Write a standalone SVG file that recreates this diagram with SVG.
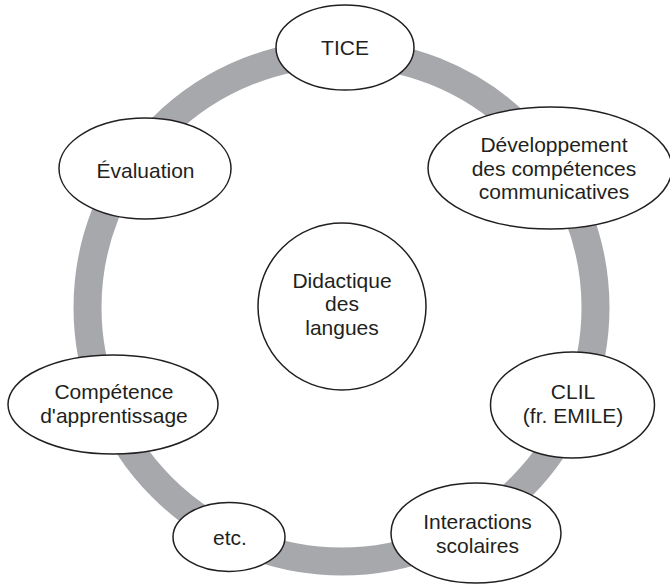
<svg xmlns="http://www.w3.org/2000/svg" width="670" height="585" viewBox="0 0 670 585">
<style>
.node{fill:#fff;stroke:#231f20;stroke-width:1.5}
.lbl{font-family:"Liberation Sans",Arial,sans-serif;font-size:21px;fill:#231f20;text-anchor:middle}
.ring{fill:none;stroke:#a6a8ab;stroke-width:28}
</style>
<rect width="670" height="585" fill="#fff"/>
<g id="connectors">
<circle class="ring" cx="341.5" cy="307.5" r="254"/>
</g>
<g id="center">
<ellipse class="node" cx="342" cy="306.5" rx="84" ry="83.5"/>
<text class="lbl" x="342" y="288">Didactique</text>
<text class="lbl" x="342" y="311">des</text>
<text class="lbl" x="342" y="335">langues</text>
</g>
<g id="tice">
<ellipse class="node" cx="345" cy="47.5" rx="69" ry="42.5"/>
<text class="lbl" x="345" y="55">TICE</text>
</g>
<g id="developpement">
<ellipse class="node" cx="550" cy="168" rx="122" ry="61"/>
<text class="lbl" x="554" y="152">Développement</text>
<text class="lbl" x="554" y="175.5">des compétences</text>
<text class="lbl" x="554" y="199">communicatives</text>
</g>
<g id="evaluation">
<ellipse class="node" cx="145" cy="168.5" rx="86" ry="50.5"/>
<text class="lbl" x="145.5" y="178">Évaluation</text>
</g>
<g id="competence">
<ellipse class="node" cx="113" cy="404.5" rx="105" ry="49.5"/>
<text class="lbl" x="114" y="399">Compétence</text>
<text class="lbl" x="114" y="423">d'apprentissage</text>
</g>
<g id="clil">
<ellipse class="node" cx="572.5" cy="405" rx="82" ry="53"/>
<text class="lbl" x="573" y="399">CLIL</text>
<text class="lbl" x="573" y="423">(fr. EMILE)</text>
</g>
<g id="etc">
<ellipse class="node" cx="229" cy="537" rx="56" ry="34.5"/>
<text class="lbl" x="230" y="545">etc.</text>
</g>
<g id="interactions">
<ellipse class="node" cx="476" cy="533" rx="85" ry="50"/>
<text class="lbl" x="477.5" y="529">Interactions</text>
<text class="lbl" x="477.5" y="553">scolaires</text>
</g>
</svg>
